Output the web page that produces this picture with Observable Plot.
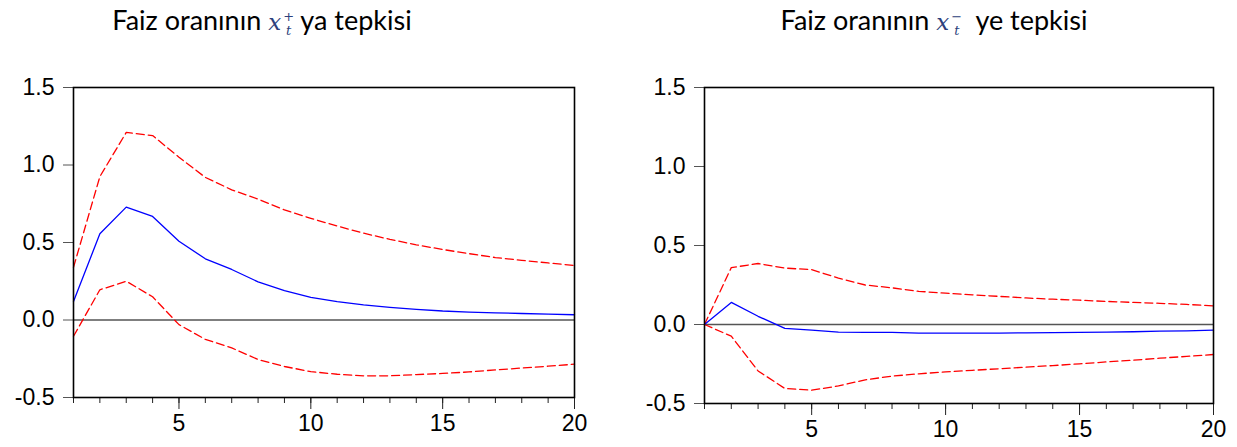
<!DOCTYPE html>
<html>
<head>
<meta charset="utf-8">
<script src="https://cdn.jsdelivr.net/npm/d3@7"></script>
<script src="https://cdn.jsdelivr.net/npm/@observablehq/plot@0.6"></script>
<style>
  html, body { margin: 0; padding: 0; background: #fff; }
  #wrap { position: relative; width: 1237px; height: 447px; overflow: hidden; background: #fff; }
  .title { position: absolute; top: 1px; font-family: Lato, "Open Sans", sans-serif; font-size: 27px; color: #000; white-space: nowrap; transform: translateX(-50%); line-height: 38px; }
  .math { font-family: "DejaVu Serif", serif; font-style: italic; color: #2d3f7c; font-size: 23px; display: inline-block; position: relative; line-height: 30px; }
  .math .ss { display: inline-flex; flex-direction: column; vertical-align: middle; font-size: 13px; line-height: 14px; font-style: italic; margin-left: 2px; text-align: center; }
  .math .ss span { display: block; height: 14px; }
  .panel { position: absolute; top: 60px; }
</style>
</head>
<body>
<div id="wrap">
  <div class="title" style="left:262px">Faiz oranının <span class="math">x<span class="ss"><span style="font-style:normal">+</span><span>t</span></span></span> ya tepkisi</div>
  <div class="title" style="left:934px">Faiz oranının <span class="math">x<span class="ss"><span style="font-style:normal">−</span><span>t</span></span></span>&nbsp; ye tepkisi</div>
  <div class="panel" id="p1" style="left:0px"></div>
  <div class="panel" id="p2" style="left:620px"></div>
</div>
<script>
// Horizon (periods)
const steps = [1, 2, 3, 4, 5, 6, 7, 8, 9, 10, 11, 12, 13, 14, 15, 16, 17, 18, 19, 20];

// Response of interest rate to x_t^+
const posResponse = [0.12, 0.556, 0.728, 0.668, 0.508, 0.395, 0.326, 0.246, 0.19, 0.146, 0.118, 0.097, 0.082, 0.069, 0.058, 0.051, 0.046, 0.042, 0.038, 0.034];
const posUpper    = [0.34, 0.925, 1.21, 1.19, 1.05, 0.92, 0.84, 0.78, 0.71, 0.656, 0.606, 0.56, 0.52, 0.485, 0.455, 0.428, 0.403, 0.385, 0.368, 0.352];
const posLower    = [-0.105, 0.195, 0.25, 0.15, -0.03, -0.125, -0.18, -0.255, -0.3, -0.333, -0.35, -0.36, -0.36, -0.352, -0.345, -0.335, -0.322, -0.31, -0.298, -0.285];

// Response of interest rate to x_t^-
const negResponse = [0, 0.14, 0.052, -0.025, -0.036, -0.048, -0.05, -0.05, -0.054, -0.054, -0.054, -0.054, -0.053, -0.051, -0.05, -0.048, -0.046, -0.042, -0.04, -0.036];
const negUpper    = [0, 0.36, 0.386, 0.357, 0.347, 0.294, 0.25, 0.232, 0.21, 0.198, 0.188, 0.178, 0.168, 0.16, 0.154, 0.146, 0.14, 0.134, 0.127, 0.118];
const negLower    = [0, -0.074, -0.294, -0.405, -0.416, -0.389, -0.35, -0.327, -0.312, -0.3, -0.29, -0.28, -0.27, -0.26, -0.249, -0.237, -0.226, -0.213, -0.202, -0.19];

// Axis ticks
const yTicks = [-0.5, 0.0, 0.5, 1.0, 1.5];
const xMajorTicks = [5, 10, 15, 20];
const xMinorTicks = [1, 2, 3, 4, 5, 6, 7, 8, 9, 10, 11, 12, 13, 14, 15, 16, 17, 18, 19, 20];

function panel(mid, up, lo, opts) {
  const data = steps.map((s, i) => ({s, mid: mid[i], up: up[i], lo: lo[i]}));
  return Plot.plot({
    width: opts.width,
    height: opts.height,
    marginLeft: opts.ml,
    marginRight: opts.mr,
    marginTop: opts.mt,
    marginBottom: opts.mb,
    x: {domain: [1, 20], label: null},
    y: {domain: [-0.5, 1.5], label: null},
    style: {fontFamily: "'Liberation Sans', Arial, sans-serif", fontSize: "23px", color: "#000", background: "#fff", overflow: "visible"},
    marks: [
      Plot.ruleY([0], {stroke: "#555", strokeWidth: 1.3}),
      Plot.line(data, {x: "s", y: "up", stroke: "#ff0000", strokeWidth: 1.3, strokeDasharray: "8,4"}),
      Plot.line(data, {x: "s", y: "lo", stroke: "#ff0000", strokeWidth: 1.3, strokeDasharray: "8,4"}),
      Plot.line(data, {x: "s", y: "mid", stroke: "#0000ff", strokeWidth: 1.3}),
      Plot.axisY(yTicks, {tickSize: 10, tickPadding: 9, tickFormat: d => d.toFixed(1), stroke: "#555", strokeOpacity: 1, fontSize: 23, label: null}),
      Plot.axisX(xMinorTicks, {tickSize: 6, tickFormat: () => "", stroke: "#222", strokeOpacity: 1, label: null}),
      Plot.axisX(xMajorTicks, {tickSize: 12, tickPadding: 5, tickFormat: d => String(d), stroke: "#222", strokeOpacity: 1, fontSize: 23, label: null}),
      Plot.frame({stroke: "#000", strokeWidth: 1.6})
    ]
  });
}

document.getElementById("p1").appendChild(
  panel(posResponse, posUpper, posLower, {width: 620, height: 387, ml: 73, mr: 46, mt: 27, mb: 50})
);
document.getElementById("p2").appendChild(
  panel(negResponse, negUpper, negLower, {width: 617, height: 387, ml: 84, mr: 24, mt: 27, mb: 44})
);
</script>
</body>
</html>
